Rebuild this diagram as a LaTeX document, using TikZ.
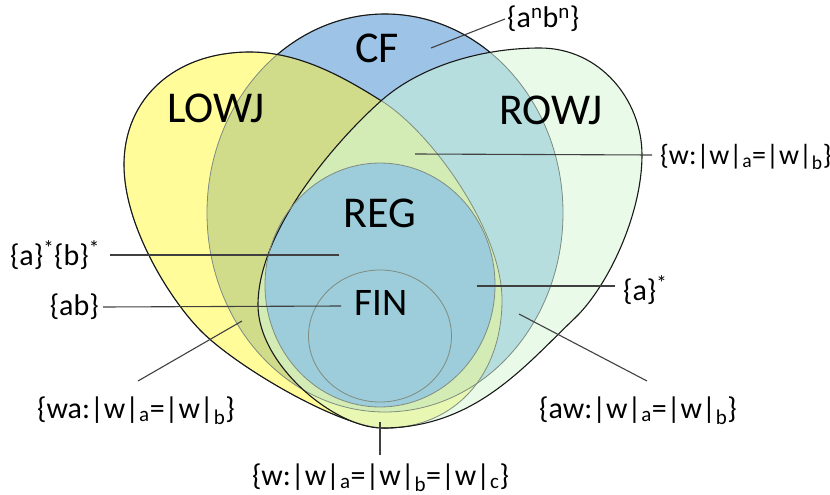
\documentclass[tikz,border=0pt]{standalone}
\usepackage{fontspec}
\setmainfont{Carlito}
\definecolor{cYel}{HTML}{FFFC99}
\definecolor{cPale}{HTML}{E9FAE9}
\definecolor{cBlue}{HTML}{9DC3E6}
\definecolor{cOlive}{HTML}{D0DC8A}
\definecolor{cTeal}{HTML}{B6DEDE}
\definecolor{cTear}{HTML}{D3ECB5}
\definecolor{cCres}{HTML}{E8F8B2}
\definecolor{cReg}{HTML}{9DCDDA}
\definecolor{cLine}{HTML}{404040}
\definecolor{cGray}{HTML}{7F8C80}
\begin{document}
\begin{tikzpicture}[x=1pt,y=1pt,
  conn/.style={draw=cLine, line width=1.1pt},
  big/.style={font=\fontsize{44}{50}\selectfont, inner sep=0pt},
  finlab/.style={font=\fontsize{39}{45}\selectfont, inner sep=0pt},
  lab/.style={font=\fontsize{30}{35}\selectfont, inner sep=0pt},
  labsm/.style={font=\fontsize{28}{33}\selectfont, inner sep=0pt},
  bline/.style={draw=black!90, line width=1.1pt},
  gline/.style={draw=cGray, line width=0.8pt}]
\useasboundingbox (0,0) rectangle (830,-495);
\def\LOWJ{(250,-52) .. controls (300,-52) and (345,-78) .. (380,-100)
  .. controls (430,-130) and (502,-230) .. (502,-300)
  .. controls (502,-375) and (455,-428) .. (385,-428)
  .. controls (340,-428) and (235,-366) .. (200,-330)
  .. controls (168.5,-297.6) and (124,-225) .. (124,-165)
  .. controls (124,-98) and (175,-52) .. (250,-52) -- cycle}
\def\ROWJ{(540,-48) .. controls (600,-48) and (642,-100) .. (642,-155)
  .. controls (642,-215) and (607.4,-287) .. (575,-318)
  .. controls (524.6,-366) and (475,-428) .. (382,-428)
  .. controls (335,-428) and (258,-365) .. (258,-305)
  .. controls (258,-230) and (337,-139.6) .. (382,-100)
  .. controls (419.5,-67) and (480,-48) .. (540,-48) -- cycle}
\def\CF{(385,-213) ellipse [x radius=178, y radius=199]}
\def\REG{(380,-285) ellipse [x radius=115, y radius=122]}
\def\FIN{(380,-336) ellipse [x radius=71.5, y radius=66]}
\def\ALL{(-10,10) rectangle (840,-505)}
% region fills
\fill[cYel] \LOWJ;
\fill[cPale] \ROWJ;
\fill[cBlue] \CF;
\begin{scope}\clip \LOWJ; \fill[cOlive] \CF; \end{scope}
\begin{scope}\clip \ROWJ; \fill[cTeal] \CF; \end{scope}
\begin{scope}
  \clip \LOWJ; \clip \ROWJ;
  \fill[cCres] \ALL;
  \clip \CF;
  \fill[cTear] \ALL;
\end{scope}
\fill[cReg] \REG;
% outlines
\draw[gline] \CF;
\begin{scope}[even odd rule]
  \clip \ALL \LOWJ;
  \begin{scope}[even odd rule]
    \clip \ALL \ROWJ;
    \draw[bline] \CF;
  \end{scope}
\end{scope}
\draw[gline] \LOWJ;
\begin{scope}[even odd rule]
  \clip \ALL \ROWJ;
  \draw[bline] \LOWJ;
\end{scope}
\draw[bline] \ROWJ;
\draw[gline] \REG;
\draw[gline] \FIN;
% big labels
\node[big, anchor=base] (cf) at (377,-63) {CF};
\node[big, anchor=base] (lowj) at (216,-122) {LOWJ};
\node[big, anchor=base] (rowj) at (551,-124) {ROWJ};
\node[big, anchor=base] (reg) at (380,-227) {REG};
\node[finlab, anchor=base] (fin) at (381,-315) {FIN};
% small labels
\node[lab, anchor=base west] (anbn) at (507,-28) {\{a\textsuperscript{n}b\textsuperscript{n}\}};
\node[labsm, anchor=base west] (eqab) at (660,-164) {\{w:|w|\textsubscript{a}=|w|\textsubscript{b}\}};
\node[lab, anchor=base east] (astbst) at (100,-265) {\{a\}\textsuperscript{*}\{b\}\textsuperscript{*}};
\node[lab, anchor=base east] (ab) at (99,-315) {\{ab\}};
\node[lab, anchor=base west] (ast) at (623,-300) {\{a\}\textsuperscript{*}};
\node[lab, anchor=base west] (aw) at (539,-418) {\{aw:|w|\textsubscript{a}=|w|\textsubscript{b}\}};
\node[lab, anchor=base west] (wa) at (37,-418) {\{wa:|w|\textsubscript{a}=|w|\textsubscript{b}\}};
\node[lab, anchor=base] (abc) at (380.5,-485) {\{w:|w|\textsubscript{a}=|w|\textsubscript{b}=|w|\textsubscript{c}\}};
% connector ends
\coordinate (p-anbn) at (431,-48);   \coordinate (t-anbn) at (505,-19);
\coordinate (p-eqab) at (415,-154);  \coordinate (t-eqab) at (652,-155);
\coordinate (p-astbst) at (339,-255);\coordinate (t-astbst) at (110,-255);
\coordinate (p-ab) at (341,-306);    \coordinate (t-ab) at (103,-307);
\coordinate (p-ast) at (477,-286);   \coordinate (t-ast) at (615,-286);
\coordinate (p-aw) at (519,-314);    \coordinate (t-aw) at (647,-381);
\coordinate (p-wa) at (242,-321);    \coordinate (t-wa) at (138,-381);
\coordinate (p-abc) at (380,-422);   \coordinate (t-abc) at (380,-455);
\draw[conn] (t-anbn) -- (p-anbn);
\draw[conn] (t-eqab) -- (p-eqab);
\draw[conn] (t-astbst) -- (p-astbst);
\draw[conn] (t-ab) -- (p-ab);
\draw[conn] (t-ast) -- (p-ast);
\draw[conn] (t-aw) -- (p-aw);
\draw[conn] (t-wa) -- (p-wa);
\draw[conn] (t-abc) -- (p-abc);
\end{tikzpicture}
\end{document}
